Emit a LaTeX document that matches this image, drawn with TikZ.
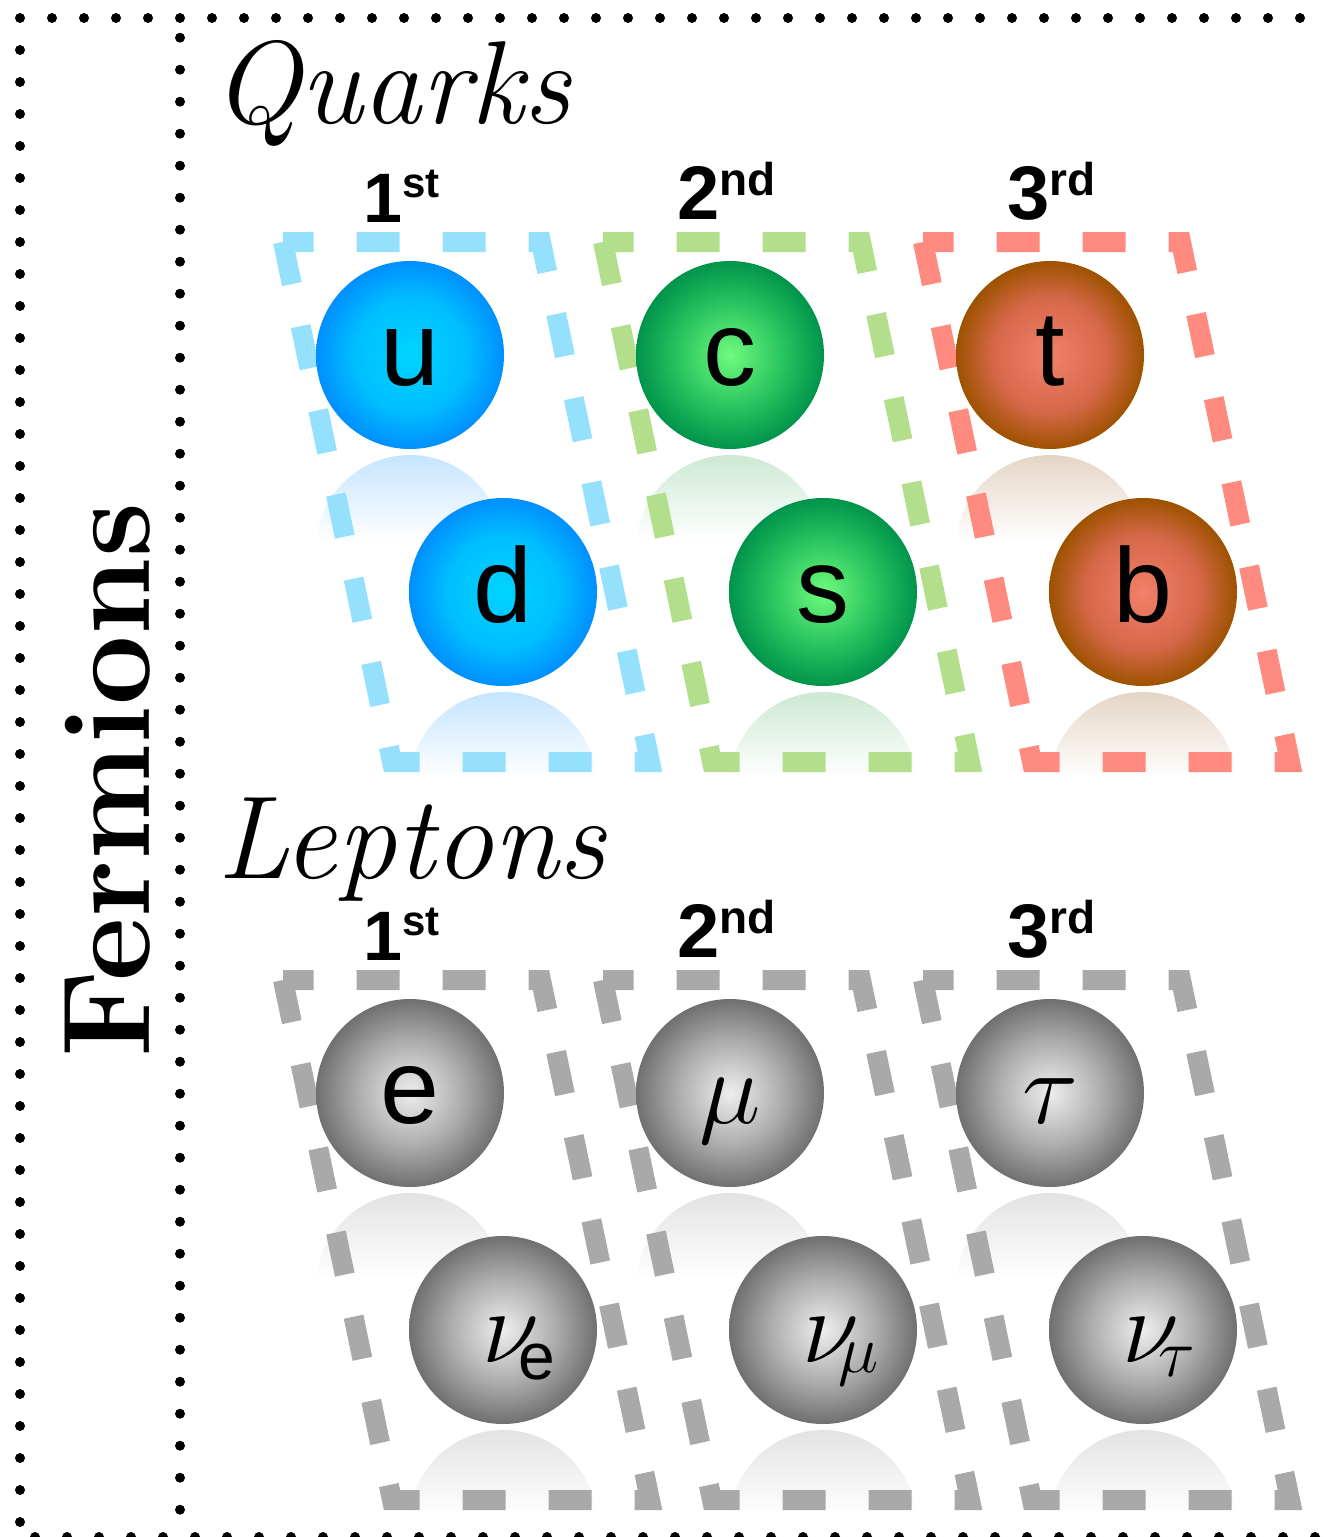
\RequirePackage{fix-cm}
\documentclass[tikz,border=0pt]{standalone}
\usepackage{fontspec}
\newfontfamily\hv{Liberation Sans}
\definecolor{qblue}{RGB}{149,225,253}
\definecolor{qgreen}{RGB}{179,223,141}
\definecolor{qred}{RGB}{255,139,128}
\definecolor{lgray}{RGB}{169,169,169}
\definecolor{bA}{RGB}{0,212,255}\definecolor{bB}{RGB}{0,190,255}\definecolor{bC}{RGB}{0,143,255}
\definecolor{gA}{RGB}{112,250,125}\definecolor{gB}{RGB}{40,196,95}\definecolor{gC}{RGB}{0,148,75}
\definecolor{rA}{RGB}{242,128,106}\definecolor{rB}{RGB}{214,104,74}\definecolor{rC}{RGB}{158,82,0}
\definecolor{kA}{RGB}{238,238,238}\definecolor{kB}{RGB}{172,172,172}\definecolor{kC}{RGB}{112,112,112}
\definecolor{tblue}{RGB}{196,228,255}
\definecolor{tgreen}{RGB}{204,232,212}
\definecolor{tred}{RGB}{228,212,196}
\definecolor{tgray}{RGB}{226,226,226}
\pgfdeclareradialshading{sphblue}{\pgfpointorigin}{color(0bp)=(bA); color(15bp)=(bB); color(25bp)=(bC); color(50bp)=(bC)}
\pgfdeclareradialshading{sphgreen}{\pgfpointorigin}{color(0bp)=(gA); color(14bp)=(gB); color(25bp)=(gC); color(50bp)=(gC)}
\pgfdeclareradialshading{sphred}{\pgfpointorigin}{color(0bp)=(rA); color(15bp)=(rB); color(25bp)=(rC); color(50bp)=(rC)}
\pgfdeclareradialshading{sphgray}{\pgfpointorigin}{color(0bp)=(kA); color(14bp)=(kB); color(25bp)=(kC); color(50bp)=(kC)}
\tikzset{
  sph/.style={circle, minimum size=94pt, inner sep=0pt, shade, shading=#1},
  gbox/.style={draw=#1, line width=10pt, dash pattern=on 21.5pt off 21.5pt},
  plab/.style={anchor=base, inner sep=0pt, font=\hv\fontsize{53}{53}\selectfont},
  glkl/.style={anchor=base, inner sep=0pt, font=\fontsize{52}{52}\selectfont},
  nulab/.style={anchor=base west, inner sep=0pt, font=\fontsize{52}{52}\selectfont},
  glab/.style={anchor=base west, inner sep=0pt, font=\hv\bfseries\fontsize{#1}{#1}\selectfont},
  title/.style={anchor=base west, inner sep=0pt, font=\itshape\fontsize{59}{59}\selectfont},
}
\newcommand\sphrefl[3]{%
  \begin{scope}
    \clip (#1,#2+194) circle[radius=47pt];
    \shade[top color=#3, middle color=#3!45, bottom color=white] (#1-100,#2+98) rectangle (#1+100,#2+185);
  \end{scope}}
\newcommand\nusub[2]{\makebox[18pt][l]{$\nu$}\raisebox{#1}{#2}}
\begin{document}
\begin{tikzpicture}[x=0.5pt, y=-0.5pt]
\useasboundingbox (0,0) rectangle (1323,1537);
% dotted frame
\foreach \i in {0,...,40} \fill (20+32*\i,18) circle[radius=2.5pt];
\foreach \j in {1,...,47} \fill (20,18+32*\j) circle[radius=2.5pt];
\foreach \j in {0,...,46} \fill (180,37.7+32*\j) circle[radius=2.5pt];
\foreach \i in {0,...,40} \fill (35+32*\i,1537) circle[radius=2.5pt];
% titles
\node[title] (quarks) at (212,123) {Quarks};
\node[title] (leptons) at (217,878) {Leptons};
\node[rotate=90, anchor=base, inner sep=0pt, font=\bfseries\fontsize{62}{62}\selectfont] (fermions) at (149,780) {Fermions};
% generation labels
\node[glab=35] (q1) at (363,222) {1\raisebox{12.5pt}{\fontsize{21}{21}\selectfont st}};
\node[glab=38] (q2) at (677,219) {2\raisebox{12pt}{\fontsize{23}{23}\selectfont nd}};
\node[glab=38] (q3) at (1007,219) {3\raisebox{12pt}{\fontsize{23}{23}\selectfont rd}};
\node[glab=35] (l1) at (363,960) {1\raisebox{12.5pt}{\fontsize{21}{21}\selectfont st}};
\node[glab=38] (l2) at (677,957) {2\raisebox{12pt}{\fontsize{23}{23}\selectfont nd}};
\node[glab=38] (l3) at (1007,957) {3\raisebox{12pt}{\fontsize{23}{23}\selectfont rd}};
% reflections
\sphrefl{410}{355}{tblue}\sphrefl{503}{592}{tblue}
\sphrefl{730}{355}{tgreen}\sphrefl{823}{592}{tgreen}
\sphrefl{1050}{355}{tred}\sphrefl{1143}{592}{tred}
\foreach \cx/\cy in {410/1093,503/1330,730/1093,823/1330,1050/1093,1143/1330} {\sphrefl{\cx}{\cy}{tgray}}
% generation boxes
\foreach \k/\col in {0/qblue,1/qgreen,2/qred}
  \draw[gbox=\col] (283+320*\k,242) -- (392+320*\k,762) -- (650+320*\k,762) -- (541+320*\k,242) -- cycle;
\foreach \k in {0,1,2}
  \draw[gbox=lgray] (283+320*\k,980) -- (392+320*\k,1500) -- (650+320*\k,1500) -- (541+320*\k,980) -- cycle;
% quark spheres
\node[sph=sphblue] (u) at (410,355) {};
\node[sph=sphblue] (d) at (503,592) {};
\node[sph=sphgreen] (c) at (730,355) {};
\node[sph=sphgreen] (s) at (823,592) {};
\node[sph=sphred] (t) at (1050,355) {};
\node[sph=sphred] (b) at (1143,592) {};
\node[plab] (ul) at (410,385) {u};
\node[plab] (dl) at (503,622) {d};
\node[plab] (cl) at (730,385) {c};
\node[plab] (sl) at (823,622) {s};
\node[plab] (tl) at (1050,385) {t};
\node[plab] (bl) at (1143,622) {b};
% lepton spheres
\node[sph=sphgray] (e) at (410,1093) {};
\node[sph=sphgray] (mu) at (730,1093) {};
\node[sph=sphgray] (tau) at (1050,1093) {};
\node[sph=sphgray] (nue) at (503,1330) {};
\node[sph=sphgray] (numu) at (823,1330) {};
\node[sph=sphgray] (nutau) at (1143,1330) {};
\node[plab] (el) at (410,1123) {e};
\node[glkl] (mul) at (730,1123) {$\mu$};
\node[glkl] (taul) at (1050,1123) {$\tau$};
\node[nulab] (nuel) at (482,1362) {\nusub{-8.5pt}{\hv\fontsize{33}{33}\selectfont e}};
\node[nulab] (numul) at (802,1362) {\nusub{-5pt}{\fontsize{34}{34}\selectfont$\mu$}};
\node[nulab] (nutaul) at (1122,1362) {\nusub{-7pt}{\fontsize{34}{34}\selectfont$\tau$}};
\end{tikzpicture}
\end{document}
